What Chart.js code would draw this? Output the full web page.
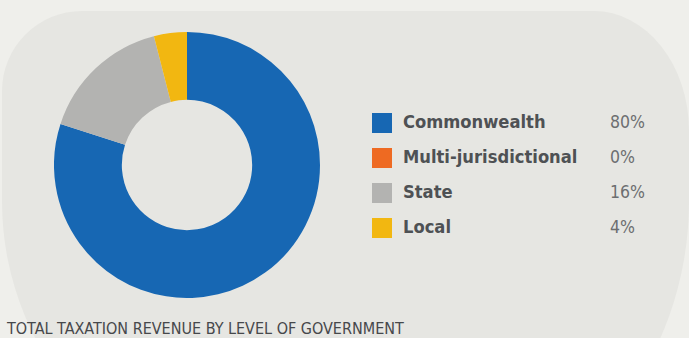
<!DOCTYPE html>
<html>
<head>
<meta charset="utf-8">
<script src="https://cdn.jsdelivr.net/npm/chart.js@4"></script>
<style>
  html, body { margin: 0; padding: 0; }
  body {
    width: 689px; height: 338px; overflow: hidden; position: relative;
    background: #efefeb;
    font-family: "DejaVu Sans Condensed", "DejaVu Sans", sans-serif;
  }
  #panel {
    position: absolute; left: 2px; top: 11px; width: 687px; height: 490px;
    background: #e6e6e2;
    border-radius: 80px 95px 259px 300px / 80px 120px 300px 300px;
  }
  #pie { position: absolute; left: 54px; top: 32px; }
  #legend { position: absolute; left: 372px; top: 113px; }
  .row { position: absolute; height: 20px; white-space: nowrap; }
  .swatch { position: absolute; left: 0; top: 0; width: 20px; height: 20px; }
  .name {
    position: absolute; left: 31px; top: -2px;
    font-weight: bold; font-size: 18.2px; color: #4e5154;
  }
  .pct {
    position: absolute; left: 238px; top: -1px;
    font-size: 17.5px; color: #6c6e70;
  }
  #caption {
    position: absolute; left: 7px; top: 319px;
    font-size: 16px; color: #46484b; white-space: nowrap;
  }
</style>
</head>
<body>
<div id="panel"></div>
<canvas id="pie" width="266" height="266"></canvas>
<div id="legend"></div>
<div id="caption">TOTAL TAXATION REVENUE BY LEVEL OF GOVERNMENT</div>
<script>
const levels = ["Commonwealth", "Multi-jurisdictional", "State", "Local"];
const shares = [80, 0, 16, 4];
const colours = ["#1767b3", "#ee6a22", "#b3b3b1", "#f2b711"];

// legend rows: swatch, name, share
const legend = document.getElementById("legend");
levels.forEach((name, i) => {
  const row = document.createElement("div");
  row.className = "row";
  row.style.top = (i * 35) + "px";
  row.innerHTML =
    '<div class="swatch" style="background:' + colours[i] + '"></div>' +
    '<div class="name">' + name + '</div>' +
    '<div class="pct">' + shares[i] + '%</div>';
  legend.appendChild(row);
});

const ctx = document.querySelector("#pie");
const revenueChart = new Chart(ctx, {
  type: "doughnut",
  data: {
    labels: levels,
    datasets: [{
      data: shares,
      backgroundColor: colours,
      borderWidth: 0,
    }]
  },
  options: {
    responsive: false,
    animation: false,
    cutout: "49%",
    layout: { padding: 0 },
    plugins: {
      legend: { display: false },
      tooltip: { enabled: false },
    }
  }
});
</script>
</body>
</html>
